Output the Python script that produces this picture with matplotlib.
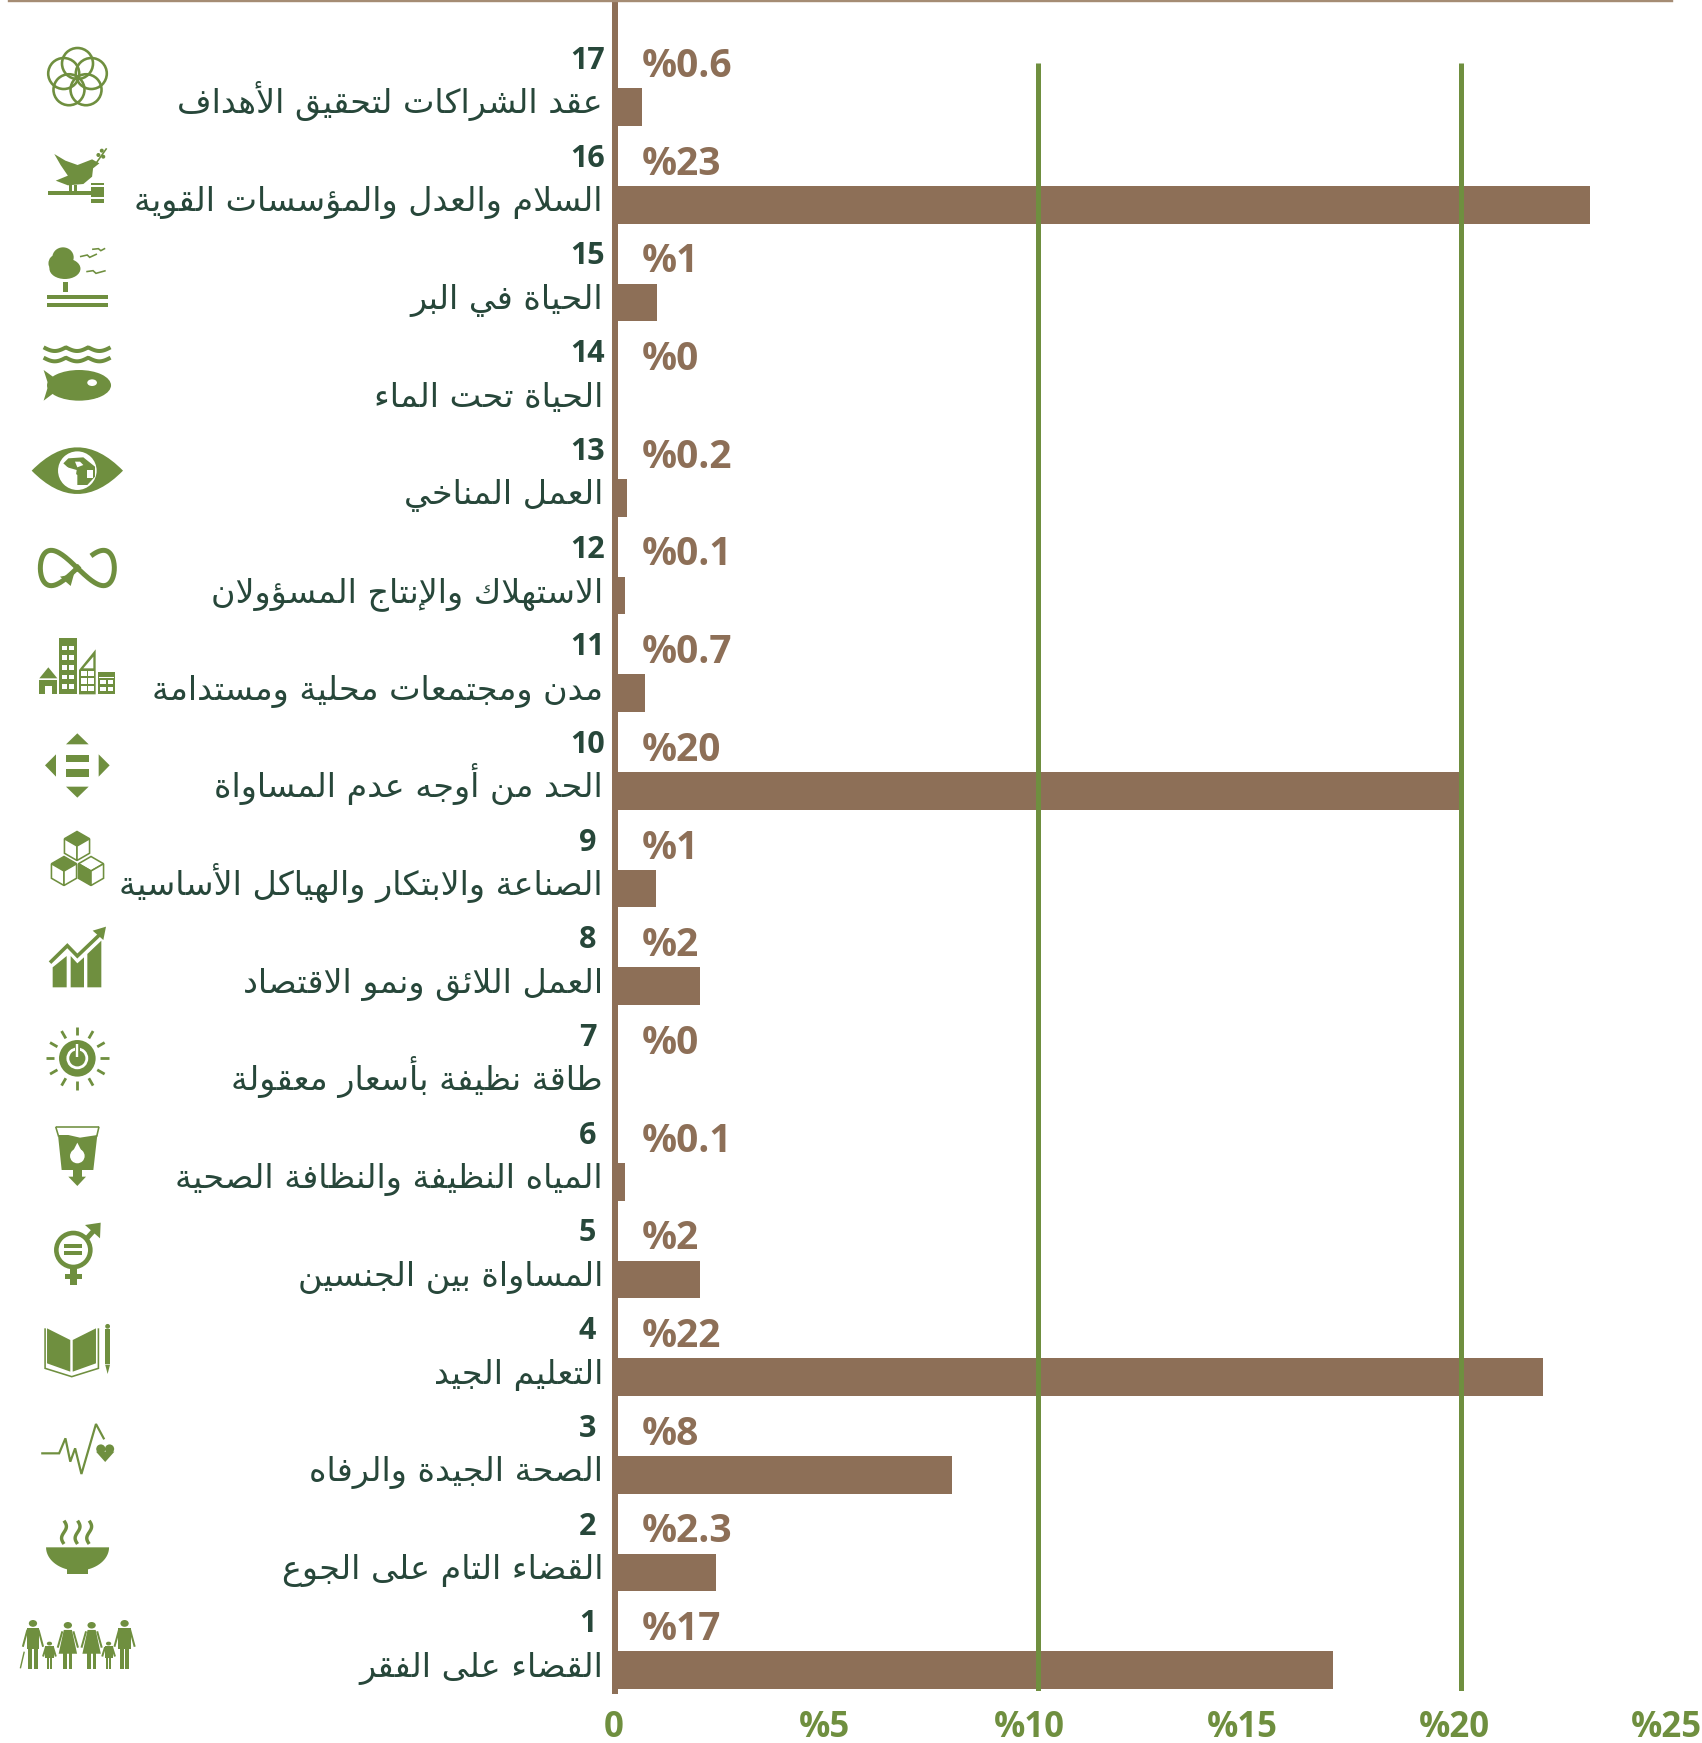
import unicodedata
import numpy as np
import matplotlib
matplotlib.use("Agg")
import matplotlib.pyplot as plt
from matplotlib.patches import Polygon, Circle, Ellipse, PathPatch
from matplotlib.path import Path
from matplotlib.transforms import ScaledTranslation, blended_transform_factory

goals = [17, 16, 15, 14, 13, 12, 11, 10, 9, 8, 7, 6, 5, 4, 3, 2, 1]
names = [
    "عقد الشراكات لتحقيق الأهداف",
    "السلام والعدل والمؤسسات القوية",
    "الحياة في البر",
    "الحياة تحت الماء",
    "العمل المناخي",
    "الاستهلاك والإنتاج المسؤولان",
    "مدن ومجتمعات محلية ومستدامة",
    "الحد من أوجه عدم المساواة",
    "الصناعة والابتكار والهياكل الأساسية",
    "العمل اللائق ونمو الاقتصاد",
    "طاقة نظيفة بأسعار معقولة",
    "المياه النظيفة والنظافة الصحية",
    "المساواة بين الجنسين",
    "التعليم الجيد",
    "الصحة الجيدة والرفاه",
    "القضاء التام على الجوع",
    "القضاء على الفقر",
]
bar_values = [0.63, 23.05, 1, 0, 0.28, 0.23, 0.7, 20, 0.97, 2, 0, 0.23, 2, 21.95, 7.96, 2.38, 16.97]
value_labels = ["%0.6", "%23", "%1", "%0", "%0.2", "%0.1", "%0.7", "%20", "%1", "%2",
                "%0", "%0.1", "%2", "%22", "%8", "%2.3", "%17"]
x_ticks = [0, 5, 10, 15, 20, 25]
x_tick_labels = ["0", "%5", "%10", "%15", "%20", "%25"]
ref_lines = [10, 20]

BROWN = "#8d6f57"
GREEN = "#6f8f3f"
DARK = "#27473a"
W, H = 1702, 1743
PT = 72 / 100  # points per pixel

# ---- Arabic shaping -------------------------------------------------
FORMS = {}
for cp in range(0xFE70, 0xFEFD):
    d = unicodedata.decomposition(chr(cp)).split()
    if len(d) >= 2 and d[0].startswith("<"):
        key = "".join(chr(int(h, 16)) for h in d[1:])
        FORMS.setdefault(key, {})[d[0].strip("<>")] = chr(cp)
NON_FORWARD = set("اأإآدذرزوؤةءى")


def shape(text):
    units, i = [], 0
    while i < len(text):
        c = text[i]
        if c == "ل" and i + 1 < len(text) and text[i + 1] in "اأإآ":
            units.append(c + text[i + 1])
            i += 2
        else:
            units.append(c)
            i += 1

    def arabic(u):
        return u in FORMS

    def joins_fwd(u):
        return arabic(u) and len(u) == 1 and u not in NON_FORWARD

    def joins_back(u):
        return arabic(u) and u != "ء"

    out = []
    for k, u in enumerate(units):
        if not arabic(u):
            out.append(u)
            continue
        prev_j = k > 0 and joins_fwd(units[k - 1]) and joins_back(u)
        next_j = k + 1 < len(units) and joins_fwd(u) and joins_back(units[k + 1])
        form = {(0, 0): "isolated", (1, 0): "final", (0, 1): "initial", (1, 1): "medial"}[(int(prev_j), int(next_j))]
        f = FORMS[u]
        out.append(f.get(form, f.get("isolated", u)))
    return "".join(reversed(out))


# ---- figure and chart ------------------------------------------------
fig = plt.figure(figsize=(W / 100, H / 100), dpi=100, facecolor="white")
X0, X25, YB = 615, 1672.5, 1691
ax = fig.add_axes([X0 / W, 1 - YB / H, (X25 - X0) / W, YB / H])
ax.set_xlim(0, 25)
ax.set_ylim(0.787, 18.095)
ax.patch.set_visible(False)
for s in ["top", "right", "bottom"]:
    ax.spines[s].set_visible(False)
ax.spines["left"].set_color(BROWN)
ax.spines["left"].set_linewidth(6 * PT)
ax.set_yticks([])

ax.barh(goals, bar_values, height=0.386, color=BROWN, zorder=2)
for v in ref_lines:
    ax.plot([v, v], [0.787, 17.45], color=GREEN, lw=5 * PT, solid_capstyle="butt", zorder=3)

ax.set_xticks(x_ticks)
ax.set_xticklabels(x_tick_labels, family=["Open Sans", "DejaVu Sans"], fontweight="bold",
                   fontsize=25, color=GREEN)
ax.tick_params(axis="x", length=0, pad=14)
for lab, dx in zip(ax.get_xticklabels(), [-1.5, -2.5, -9, -7, -7, -6]):
    lab.set_transform(lab.get_transform() + ScaledTranslation(dx / 100, 0, fig.dpi_scale_trans))

tr = blended_transform_factory(fig.transFigure, ax.transData)
for g, name, lab in zip(goals, names, value_labels):
    ax.text(587.5 / W, g + 0.47, str(g), transform=tr, ha="center", va="center",
            family=["Open Sans", "DejaVu Sans"], fontweight="bold", fontsize=22, color=DARK)
    ax.text(603 / W, g - 0.066, shape(name), transform=tr, ha="right", va="baseline",
            family="DejaVu Sans", fontsize=24, color=DARK)
    ax.text(642 / W, g + 0.415, lab, transform=tr, ha="left", va="center",
            family=["Open Sans", "DejaVu Sans"], fontweight="bold", fontsize=28, color=BROWN)

# ---- decorative layer in pixel coordinates ----------------------------
deco = fig.add_axes([0, 0, 1, 1], zorder=5)
deco.set_xlim(0, W)
deco.set_ylim(H, 0)
deco.axis("off")
deco.plot([9, 1672], [1.2, 1.2], color="#a58c74", lw=2.4 * PT)


def z1(*p):
    return [(x / 2.063, y / 3) for x, y in p]


def z2(*p):
    return [(x / 3, 420 + y / 3) for x, y in p]


def z3(*p):
    return [(x / 3, 880 + y / 3) for x, y in p]


def z4(*p):
    return [(x / 2.063, 1320 + y / 3) for x, y in p]


def poly(pts, c=GREEN, **k):
    deco.add_patch(Polygon(pts, closed=True, fc=c, ec="none", **k))


def box(z, x0, y0, x1, y1, c=GREEN):
    poly(z((x0, y0), (x1, y0), (x1, y1), (x0, y1)), c)


def line(pts, lw, c=GREEN, cap="butt"):
    a = np.array(pts)
    deco.plot(a[:, 0], a[:, 1], color=c, lw=lw * PT, solid_capstyle=cap, solid_joinstyle="miter")


def circ(x, y, r, fc=GREEN, ec="none", lw=0):
    deco.add_patch(Circle((x, y), r, fc=fc, ec=ec, lw=lw * PT))


# 17 partnership flower
for k in range(5):
    a = np.radians(90 + 72 * k)
    circ(77.5 + 14.5 * np.cos(a), 78 - 14.5 * np.sin(a), 15.5, fc="none", ec=GREEN, lw=2.6)

# 16 dove and gavel
poly(z1((112, 462), (135, 482), (160, 495), (190, 478), (205, 490), (192, 505), (190, 530), (172, 552),
        (140, 556), (115, 542), (140, 527), (125, 495)))
line(z1((198, 490), (220, 445)), 1.6)
for px, py in [(210, 452), (203, 465), (213, 470)]:
    circ(px / 2.063, py / 3, 2)
box(z1, 98, 572, 190, 585)
box(z1, 188, 560, 215, 592)
box(z1, 188, 548, 215, 555)
box(z1, 188, 598, 215, 608)
box(z1, 143, 555, 148, 572)
box(z1, 153, 555, 158, 572)

# 15 tree, birds, ground
deco.add_patch(Ellipse((130 / 2.063, 772 / 3), 44 / 2.063, 60 / 3, fc=GREEN))
deco.add_patch(Ellipse((134 / 2.063, 806 / 3), 64 / 2.063, 62 / 3, fc=GREEN))
deco.add_patch(Ellipse((115 / 2.063, 790 / 3), 30 / 2.063, 50 / 3, fc=GREEN))
box(z1, 130, 846, 140, 875)
box(z1, 97, 885, 222, 897)
box(z1, 97, 908, 222, 920)
for pts in [((165, 770), (180, 765), (185, 772), (200, 762)),
            ((190, 748), (203, 746), (208, 752), (217, 745)),
            ((178, 815), (192, 812), (198, 820), (218, 812))]:
    line(z1(*pts), 1.6)

# 14 waves and fish
xs = np.linspace(90, 228, 60)
for y0 in (1042, 1073):
    line(z1(*zip(xs, y0 + 11 * np.abs(np.sin((xs - 90) / 138 * 3 * np.pi)))), 4)
poly(z1((90, 1110), (133, 1155), (90, 1202), (100, 1155)))
deco.add_patch(Ellipse((163 / 2.063, 1156 / 3), 132 / 2.063, 92 / 3, fc=GREEN))
poly(z1((200, 1118), (229, 1156), (200, 1194)))
deco.add_patch(Ellipse((190 / 2.063, 1148 / 3), 20 / 2.063, 20 / 3, fc="white"))

# 13 eye with globe
a, b = z2((95, 152))[0], z2((369, 152))[0]
t, u = z2((232, 12))[0], z2((232, 292))[0]
deco.add_patch(PathPatch(Path([a, t, b, u, a], [Path.MOVETO, Path.CURVE3, Path.CURVE3, Path.CURVE3, Path.CURVE3]),
                         fc=GREEN, ec="none"))
c0 = z2((232, 152))[0]
circ(c0[0], c0[1], 19.3, fc="white")
poly(z2((205, 115), (250, 112), (285, 140), (285, 170), (262, 195), (232, 195), (232, 165), (212, 150), (190, 130)))
poly(z2((225, 125), (240, 125), (250, 135), (232, 142)), "white")
poly(z2((262, 150), (280, 150), (280, 175), (262, 175)), "white")
poly(z2((195, 140), (230, 150), (225, 185), (205, 185)), "white")

# 12 infinity loop
ts = np.linspace(0.12 * np.pi, 2.02 * np.pi, 200)
line(z2(*zip(232 + 111 * np.sin(ts), 444 - 53 * np.sin(2 * ts))), 5)
poly(z2((222, 462), (180, 470), (212, 498)))

# 11 city
box(z2, 178, 655, 230, 823)
for yy in range(677, 810, 29):
    for xx in (186, 208):
        box(z2, xx, yy, xx + 14, yy + 14, "white")
poly(z2((118, 775), (145, 742), (172, 775)))
box(z2, 118, 780, 172, 823)
box(z2, 135, 797, 155, 823, "white")
poly(z2((237, 750), (287, 688), (287, 823), (237, 823)))
for yy in (752, 775, 797):
    for xx in (243, 265):
        box(z2, xx, yy, xx + 17, yy + 17, "white")
poly(z2((250, 745), (280, 710), (280, 745)), "white")
box(z2, 294, 755, 346, 823)
box(z2, 298, 770, 342, 775, "white")
for yy in (780, 800):
    for xx in (301, 324):
        box(z2, xx, yy, xx + 16, yy + 13, "white")

# 10 reduced inequalities
poly(z2((198, 973), (232, 940), (266, 973)))
poly(z2((198, 1100), (266, 1100), (232, 1133)))
poly(z2((168, 1003), (135, 1036), (168, 1070)))
poly(z2((296, 1003), (329, 1036), (296, 1070)))
box(z2, 197, 1004, 267, 1026)
box(z2, 197, 1048, 267, 1070)


# 9 cubes
def cube(cx, cy, s, filled):
    dx, dy = s * 0.866, s * 0.5
    top = [(cx, cy - s), (cx + dx, cy - dy), (cx, cy), (cx - dx, cy - dy)]
    left = [(cx - dx, cy - dy), (cx, cy), (cx, cy + s), (cx - dx, cy + dy)]
    right = [(cx + dx, cy - dy), (cx, cy), (cx, cy + s), (cx + dx, cy + dy)]
    for face, fill in zip((top, left, right), filled):
        deco.add_patch(Polygon(face, closed=True, fc=GREEN if fill else "white", ec=GREEN, lw=1.6 * PT))


cube(77, 846, 14.5, (1, 0, 0))
cube(64, 871, 14.5, (1, 0, 0))
cube(91, 871, 14.5, (0, 1, 0))

# 8 growth
poly(z3((158, 262), (200, 228), (200, 322), (158, 322)))
poly(z3((212, 228), (232, 250), (252, 232), (252, 322), (212, 322)))
poly(z3((262, 222), (304, 182), (304, 322), (262, 322)))
line(z3((150, 248), (202, 197), (232, 228), (298, 165)), 3.6)
poly(z3((278, 152), (318, 140), (310, 180)))

# 7 energy
cx, cy = z3((232, 535))[0]
circ(cx, cy, 18.3)
circ(cx, cy, 9.5, fc="none", ec="white", lw=2.8)
line([(cx, cy - 13), (cx, cy - 1)], 5, GREEN)
line([(cx, cy - 14), (cx, cy - 1)], 2.4, "white")
for k in range(12):
    a = np.radians(30 * k)
    line([(cx + 23 * np.cos(a), cy + 23 * np.sin(a)), (cx + 31.5 * np.cos(a), cy + 31.5 * np.sin(a))], 2.8)

# 6 water
line(z3((167, 740), (297, 740)), 1.6)
line(z3((167, 740), (176, 770)), 1.6)
line(z3((297, 740), (290, 770)), 1.6)
poly(z3((174, 765), (205, 765), (240, 773), (292, 765), (280, 870), (185, 870)))
box(z3, 218, 870, 246, 895)
poly(z3((205, 890), (258, 890), (232, 918)))
circ(232 / 3, 880 + 828 / 3, 7.3, fc="white")
poly(z3((232, 788), (213, 825), (251, 825)), "white")

# 5 gender
cx, cy = z3((220, 1110))[0]
circ(cx, cy, 17, fc="none", ec=GREEN, lw=4.6)
line(z3((258, 1078), (292, 1040)), 5)
poly(z3((255, 1035), (302, 1028), (300, 1075)))
box(z3, 211, 1165, 231, 1215)
box(z3, 195, 1182, 247, 1198)
box(z3, 193, 1093, 247, 1105)
box(z3, 193, 1113, 247, 1125)

# 4 education
poly(z4((97, 25), (145, 60), (145, 155), (97, 130)))
poly(z4((150, 60), (198, 25), (198, 130), (150, 155)))
line(z4((93, 25), (93, 145), (148, 170), (203, 145), (203, 25)), 1.6)
box(z4, 217, 28, 227, 132)
poly(z4((217, 134), (227, 134), (222, 162)))
circ(222 / 2.063, 1320 + 19 / 3, 2.4)

# 3 health
line(z4((85, 400), (122, 400), (135, 355), (145, 425), (155, 385), (168, 462), (198, 312), (215, 358)), 2.2)
circ(208 / 2.063, 1320 + 387 / 3, 4.6)
circ(226 / 2.063, 1320 + 387 / 3, 4.6)
poly(z4((198, 395), (236, 395), (217, 426)))

# 2 hunger
poly(z4(*[(160 + 65 * np.cos(q), 682 + 70 * np.sin(q)) for q in np.linspace(0, np.pi, 40)]))
box(z4, 138, 745, 182, 762)
for sx in (132, 160, 184):
    yy = np.linspace(602, 672, 30)
    line(z4(*zip(sx + 5 * np.sin((yy - 602) / 70 * 2 * np.pi), yy)), 3.4)


# 1 poverty
def person(x, top, bottom, w, dress=False):
    h = bottom - top
    deco.add_patch(Ellipse((x / 2.063, 1320 + (top + h * 0.07) / 3), w * 0.45 / 2.063, h * 0.14 / 3, fc=GREEN))
    if dress:
        poly(z4((x - w * 0.22, top + h * 0.17), (x + w * 0.22, top + h * 0.17), (x + w * 0.5, top + h * 0.68),
                (x - w * 0.5, top + h * 0.68)))
    else:
        box(z4, x - w * 0.35, top + h * 0.17, x + w * 0.35, top + h * 0.6)
    box(z4, x - w * 0.25, top + h * 0.6, x - w * 0.05, bottom)
    box(z4, x + w * 0.05, top + h * 0.6, x + w * 0.25, bottom)
    line(z4((x - w * 0.3, top + h * 0.2), (x - w * 0.55, top + h * 0.55)), 2)
    line(z4((x + w * 0.3, top + h * 0.2), (x + w * 0.55, top + h * 0.55)), 2)


person(68, 900, 1046, 38)
person(140, 906, 1046, 38, True)
person(189, 906, 1046, 38, True)
person(257, 900, 1046, 38)
person(102, 965, 1046, 24)
person(224, 965, 1046, 24)
line(z4((42, 1045), (50, 995)), 1.4)

fig.savefig("out.png", dpi=100)
